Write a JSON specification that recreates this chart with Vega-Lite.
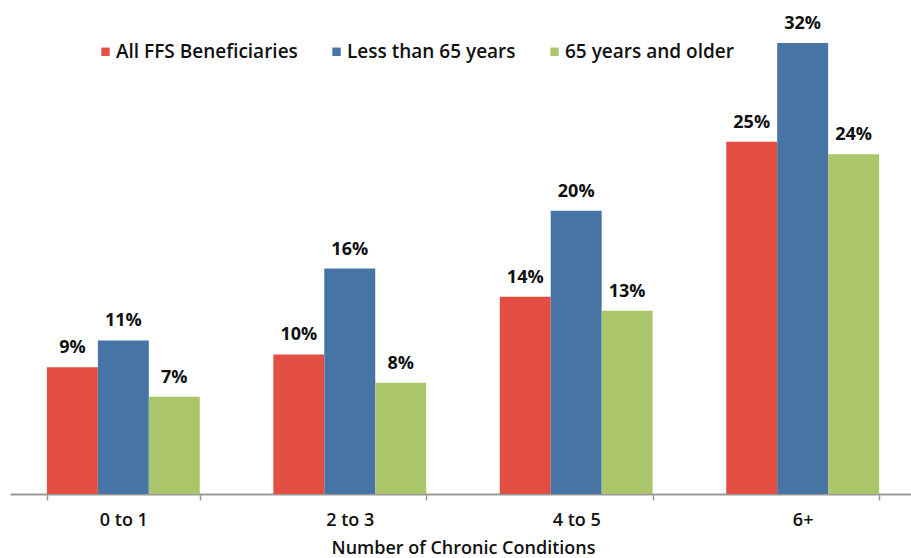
{
  "$schema": "https://vega.github.io/schema/vega-lite/v6.json",
  "width": 906,
  "height": 451,
  "autosize": "none",
  "padding": {"left": 10, "top": 43, "right": 0, "bottom": 64},
  "background": "white",
  "config": {"view": {"stroke": null}, "font": "Open Sans"},
  "data": {
    "values": [
      {"group": "0 to 1", "series": "All FFS Beneficiaries", "value": 9.0, "label": "9%"},
      {"group": "0 to 1", "series": "Less than 65 years", "value": 10.9, "label": "11%"},
      {"group": "0 to 1", "series": "65 years and older", "value": 6.9, "label": "7%"},
      {"group": "2 to 3", "series": "All FFS Beneficiaries", "value": 9.9, "label": "10%"},
      {"group": "2 to 3", "series": "Less than 65 years", "value": 16.0, "label": "16%"},
      {"group": "2 to 3", "series": "65 years and older", "value": 7.9, "label": "8%"},
      {"group": "4 to 5", "series": "All FFS Beneficiaries", "value": 14.0, "label": "14%"},
      {"group": "4 to 5", "series": "Less than 65 years", "value": 20.1, "label": "20%"},
      {"group": "4 to 5", "series": "65 years and older", "value": 13.0, "label": "13%"},
      {"group": "6+", "series": "All FFS Beneficiaries", "value": 25.0, "label": "25%"},
      {"group": "6+", "series": "Less than 65 years", "value": 32.0, "label": "32%"},
      {"group": "6+", "series": "65 years and older", "value": 24.1, "label": "24%"}
    ]
  },
  "encoding": {
    "x": {
      "field": "group",
      "type": "nominal",
      "sort": ["0 to 1", "2 to 3", "4 to 5", "6+"],
      "scale": {"paddingInner": 0.325, "paddingOuter": 0.163},
      "axis": {
        "title": "Number of Chronic Conditions",
        "labelAngle": 0,
        "labelFont": "Open Sans",
        "labelFontSize": 18,
        "labelFontWeight": 600,
        "labelColor": "#111",
        "labelBaseline": "alphabetic",
        "labelPadding": 25,
        "tickBand": "extent",
        "tickSize": 6,
        "tickColor": "#999",
        "tickWidth": 1.5,
        "domainColor": "#999",
        "domainWidth": 2,
        "titleFont": "Open Sans",
        "titleFontSize": 18,
        "titleFontWeight": 600,
        "titleColor": "#111",
        "titlePadding": 10
      }
    },
    "xOffset": {
      "field": "series",
      "type": "nominal",
      "sort": ["All FFS Beneficiaries", "Less than 65 years", "65 years and older"]
    },
    "y": {
      "field": "value",
      "type": "quantitative",
      "scale": {"domain": [0, 32], "nice": false},
      "axis": null
    }
  },
  "layer": [
    {
      "mark": {"type": "bar", "clip": false},
      "encoding": {
        "color": {
          "field": "series",
          "type": "nominal",
          "sort": ["All FFS Beneficiaries", "Less than 65 years", "65 years and older"],
          "scale": {
            "domain": ["All FFS Beneficiaries", "Less than 65 years", "65 years and older"],
            "range": ["#E24E42", "#4674A5", "#ABC56A"]
          },
          "legend": {
            "title": null,
            "orient": "none",
            "direction": "horizontal",
            "legendX": 86,
            "legendY": -1,
            "symbolType": "square",
            "symbolSize": 70,
            "symbolStrokeWidth": 0,
            "labelFont": "Open Sans",
            "labelFontSize": 19,
            "labelFontWeight": 600,
            "labelColor": "#111",
            "labelLimit": 400,
            "labelOffset": 1,
            "columnPadding": 29
          }
        }
      }
    },
    {
      "mark": {"type": "text", "baseline": "alphabetic", "dy": -14, "fontSize": 18, "fontWeight": "bold", "font": "Open Sans", "color": "#111", "clip": false},
      "encoding": {"text": {"field": "label"}}
    }
  ]
}
